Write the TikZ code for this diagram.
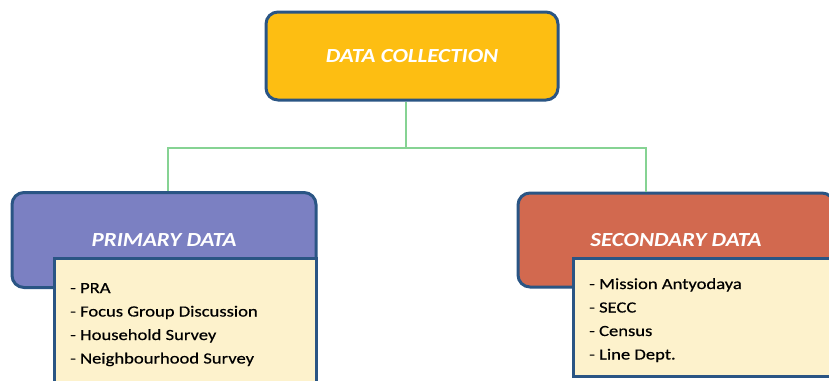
\documentclass[tikz,border=0pt]{standalone}
\usepackage{fontspec}
\setmainfont{Carlito}[FakeStretch=1.2,FakeBold=0.5]
\newfontfamily\headfont{Carlito}[FakeStretch=1.15]
\usetikzlibrary{positioning}

\definecolor{edgeblue}{HTML}{2A5584}
\definecolor{gold}{HTML}{FDBE12}
\definecolor{periwinkle}{HTML}{7B80C2}
\definecolor{brick}{HTML}{D2694F}
\definecolor{cream}{HTML}{FDF2CC}
\definecolor{linkgreen}{HTML}{86D393}

\tikzstyle{headbox}=[draw=edgeblue,line width=3pt,rounded corners=12pt,text=white,font=\headfont\fontsize{20}{20}\selectfont\bfseries\itshape,inner sep=0pt]
\tikzstyle{listbox}=[draw=edgeblue,line width=3pt,fill=cream,inner sep=0pt]
\tikzstyle{item}=[font=\fontsize{15.5}{15.5}\selectfont,inner sep=0pt,anchor=base west]
\tikzstyle{link}=[draw=linkgreen,line width=1.6pt]

\begin{document}
\begin{tikzpicture}[x=1pt,y=-1pt]
  \useasboundingbox (0,0) rectangle (829,380);
  % top of the tree
  \node[headbox,fill=gold,minimum width=292pt,minimum height=88pt] (collect) at (412,56) {DATA COLLECTION};
  % the two branches
  \node[headbox,fill=periwinkle,minimum width=304pt,minimum height=95pt] (primary) at (164,240) {PRIMARY DATA};
  \node[headbox,fill=brick,minimum width=316pt,minimum height=94pt] (secondary) at (676,240) {SECONDARY DATA};
  \node[listbox,minimum width=262pt,minimum height=137pt] (plist) at (185,326.5) {};
  \node[listbox,minimum width=267pt,minimum height=118pt] (slist) at (706.5,317) {};
  % connectors
  \coordinate (fork) at (406,148);
  \draw[link] (fork) -- (fork |- collect.south);
  \draw[link] (fork) -| ([xshift=4pt]primary.north);
  \draw[link] (fork) -| ([xshift=-30pt]secondary.north);
  % primary items
  \node[item] (p1) at (70,293) {- PRA};
  \node[item] (p2) at ([yshift=-23.5pt]p1.base west) {- Focus Group Discussion};
  \node[item] (p3) at ([yshift=-23.5pt]p2.base west) {- Household Survey};
  \node[item] (p4) at ([yshift=-23.5pt]p3.base west) {- Neighbourhood Survey};
  % secondary items
  \node[item] (s1) at (589,289) {- Mission Antyodaya};
  \node[item] (s2) at ([yshift=-23.5pt]s1.base west) {- SECC};
  \node[item] (s3) at ([yshift=-23.5pt]s2.base west) {- Census};
  \node[item] (s4) at ([yshift=-23.5pt]s3.base west) {- Line Dept.};
\end{tikzpicture}
\end{document}
